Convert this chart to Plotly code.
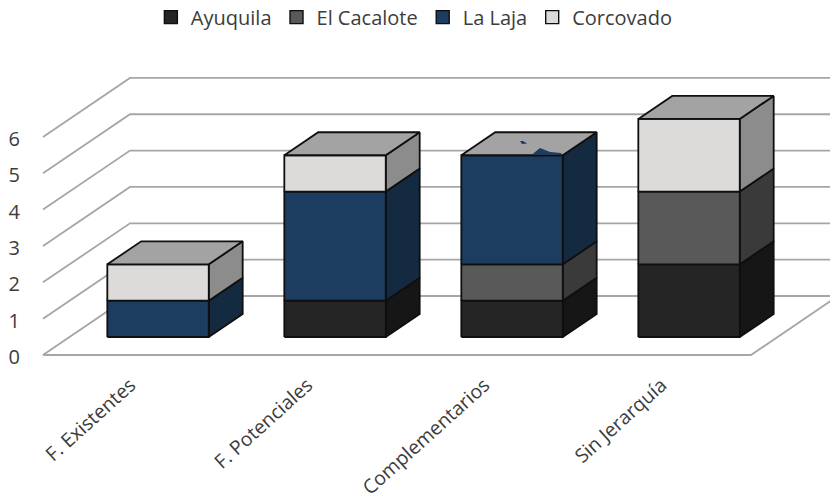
import plotly.graph_objects as go

categories = ["F. Existentes", "F. Potenciales", "Complementarios", "Sin Jerarquía"]
ayuquila = [0, 1, 1, 2]
el_cacalote = [0, 0, 1, 2]
la_laja = [1, 3, 3, 0]
corcovado = [1, 1, 0, 2]
y_ticks = [0, 1, 2, 3, 4, 5, 6]

series = [
    ("Ayuquila", ayuquila, "#252525", "#161616"),
    ("El Cacalote", el_cacalote, "#595959", "#3a3a3a"),
    ("La Laja", la_laja, "#1c3d60", "#142a40"),
    ("Corcovado", corcovado, "#dcdbd9", "#8c8c8c"),
]
TOP_COLOR = "#a3a3a3"
EDGE_COLOR = "#0f0f0f"
GRID_COLOR = "#a6a6a6"
TEXT_COLOR = "#3c3c3c"
FONT = "Open Sans"

# Oblique projection: one unit of depth moves a point right and up, in axis units.
X_SCALE, Y_SCALE = 177.0, 36.35
DEPTH_X, DEPTH_Y = 87.0 / X_SCALE, 59.0 / Y_SCALE
BAR_WIDTH = 0.573
BAR_NEAR, BAR_FAR = 0.305, 0.695


def project(x, v, z):
    return x + z * DEPTH_X, v + z * DEPTH_Y


def polygons(faces):
    xs, ys = [], []
    for face in faces:
        points = [project(*p) for p in face]
        points.append(points[0])
        xs += [p[0] for p in points] + [None]
        ys += [p[1] for p in points] + [None]
    return xs, ys


def solid(faces, fill, name):
    xs, ys = polygons(faces)
    return go.Scatter(
        x=xs, y=ys, mode="lines", fill="toself", fillcolor=fill, name=name,
        line=dict(color=EDGE_COLOR, width=1.8), showlegend=False, hoverinfo="skip",
    )


fig = go.Figure()

# Wall and floor lines: front-left edge, back wall, and the floor outline.
grid_x, grid_y = [], []
for v in y_ticks:
    for x, z in [(0, 0), (0, 1), (4.6, 1)]:
        px, py = project(x, v, z)
        grid_x.append(px)
        grid_y.append(py)
    grid_x.append(None)
    grid_y.append(None)
for x, v, z in [(0, 0, 0), (len(categories), 0, 0), (len(categories), 0, 1)]:
    px, py = project(x, v, z)
    grid_x.append(px)
    grid_y.append(py)
fig.add_trace(go.Scatter(
    x=grid_x, y=grid_y, mode="lines", line=dict(color=GRID_COLOR, width=1.8),
    showlegend=False, hoverinfo="skip",
))

# Stacked boxes, one front and one side polygon per segment.
bases = [0] * len(categories)
for name, values, front_color, side_color in series:
    fronts, sides = [], []
    for i, value in enumerate(values):
        if value == 0:
            continue
        x0 = i + 0.5 - BAR_WIDTH / 2
        x1 = i + 0.5 + BAR_WIDTH / 2
        low, high = bases[i], bases[i] + value
        fronts.append([(x0, low, BAR_NEAR), (x1, low, BAR_NEAR), (x1, high, BAR_NEAR), (x0, high, BAR_NEAR)])
        sides.append([(x1, low, BAR_NEAR), (x1, low, BAR_FAR), (x1, high, BAR_FAR), (x1, high, BAR_NEAR)])
        bases[i] = high
    fig.add_trace(solid(sides, side_color, name + " side"))
    fig.add_trace(solid(fronts, front_color, name))

# Lid of each finished stack.
tops = []
for i, height in enumerate(bases):
    x0 = i + 0.5 - BAR_WIDTH / 2
    x1 = i + 0.5 + BAR_WIDTH / 2
    tops.append([(x0, height, BAR_NEAR), (x1, height, BAR_NEAR), (x1, height, BAR_FAR), (x0, height, BAR_FAR)])
fig.add_trace(solid(tops, TOP_COLOR, "tops"))

# Legend entries.
for name, values, front_color, side_color in series:
    fig.add_trace(go.Scatter(
        x=[None], y=[None], mode="markers", name=name,
        marker=dict(symbol="square", size=13, color=front_color, line=dict(color=EDGE_COLOR, width=1.4)),
    ))


def ax(px, py):
    return (px - 43) / X_SCALE, (355 - py) / Y_SCALE


def path(points):
    coords = [ax(*p) for p in points]
    return "M " + " L ".join(f"{a:.4f},{b:.4f}" for a, b in coords) + " Z"


# Flecks of the blue face that break through the lid of the third stack.
for fleck in [
    [(520, 141), (523, 141), (527, 143.5), (522, 144)],
    [(532, 154.5), (540, 148), (550, 152), (561, 153), (562, 155)],
]:
    fig.add_shape(type="path", path=path(fleck), xref="x", yref="y", fillcolor="#1c3d60", line=dict(width=0))

fig.update_layout(
    width=830, height=500, autosize=False,
    margin=dict(l=38, r=0, t=60, b=138, autoexpand=False),
    paper_bgcolor="white", plot_bgcolor="white",
    font=dict(family=FONT, size=20, color=TEXT_COLOR),
    legend=dict(
        orientation="h", x=0.1425, xanchor="left", y=1.142, yanchor="middle",
        font=dict(size=20, color=TEXT_COLOR),
        traceorder="normal", itemclick=False, itemdoubleclick=False,
    ),
    xaxis=dict(
        range=[-5 / X_SCALE, 787 / X_SCALE], tickmode="array",
        tickvals=[i + 0.5 for i in range(len(categories))], ticktext=categories,
        tickangle=-42, showgrid=False, zeroline=False, showline=False, ticks="",
        ticklabelstandoff=7, ticklabelshift=-1, tickfont=dict(size=19.5, color=TEXT_COLOR),
    ),
    yaxis=dict(
        range=[-7 / Y_SCALE, 295 / Y_SCALE], tickmode="array", tickvals=y_ticks,
        showgrid=False, zeroline=False, showline=False, ticks="",
        ticklabelstandoff=17, ticklabelshift=2, tickfont=dict(size=20, color=TEXT_COLOR),
    ),
)

fig.write_html("out.html", config=dict(displayModeBar=False))
